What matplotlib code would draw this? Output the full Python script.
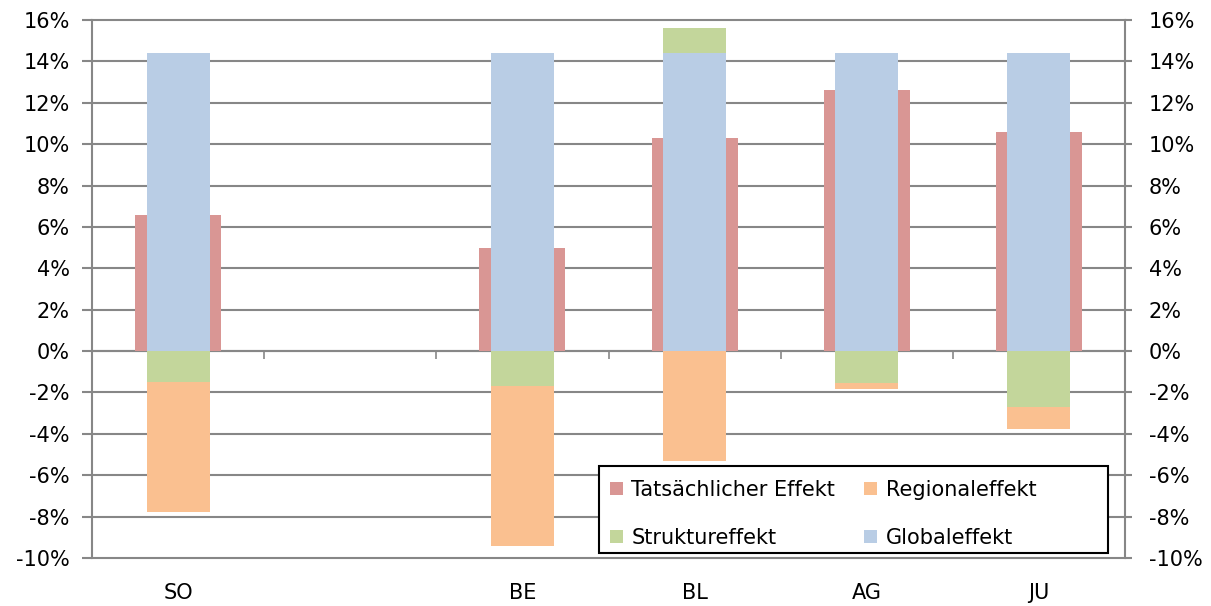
import matplotlib
matplotlib.use("Agg")
import matplotlib.pyplot as plt
import numpy as np
from matplotlib.ticker import FuncFormatter
from matplotlib.patches import Rectangle

categories = ["SO", "", "BE", "BL", "AG", "JU"]
tatsaechlich = [6.6, np.nan, 5.0, 10.3, 12.6, 10.6]
globaleffekt = [14.4, np.nan, 14.4, 14.4, 14.4, 14.4]
struktureffekt = [-1.5, np.nan, -1.7, 1.2, -1.55, -2.7]
regionaleffekt = [-6.3, np.nan, -7.7, -5.3, -0.3, -1.05]
yticks = list(range(-10, 17, 2))

c_red = "#D99694"
c_orange = "#FAC090"
c_green = "#C3D69B"
c_blue = "#B9CDE5"
c_grid = "#878787"
FS = 15

plt.rcParams['font.family'] = ['DejaVu Sans']
W, H = 1211, 606
fig = plt.figure(figsize=(W/100, H/100), dpi=100)
L, R, T, B = 92, 1125, 20, 558
ax = fig.add_axes([L/W, 1-B/H, (R-L)/W, (B-T)/H])

x = np.arange(len(categories))
tv = np.array(tatsaechlich, dtype=float)
gv = np.array(globaleffekt, dtype=float)
sv = np.array(struktureffekt, dtype=float)
rv = np.array(regionaleffekt, dtype=float)

h_t = ax.bar(x, tv, width=0.5, color=c_red, zorder=2)

pos_base = np.zeros(len(x))
neg_base = np.zeros(len(x))
handles = {}
for vals, col, lab in [(gv, c_blue, "Globaleffekt"), (sv, c_green, "Struktureffekt"), (rv, c_orange, "Regionaleffekt")]:
    v = np.nan_to_num(vals)
    bottoms = np.where(v >= 0, pos_base, neg_base)
    h = ax.bar(x, v, width=0.365, bottom=bottoms, color=col, zorder=3)
    handles[lab] = h
    pos_base = pos_base + np.where(v >= 0, v, 0)
    neg_base = neg_base + np.where(v < 0, v, 0)

ax.set_xlim(-0.5, len(x) - 0.5)
ax.set_ylim(-10, 16)
ax.set_yticks(yticks)
fmt = FuncFormatter(lambda v, p: f"{int(round(v))}%")
ax.yaxis.set_major_formatter(fmt)
ax.grid(axis='y', color=c_grid, linewidth=1.5, zorder=0)
ax.set_axisbelow(True)
for gl in ax.get_ygridlines():
    gl.set_clip_on(False)

for s in ['top', 'bottom', 'right']:
    ax.spines[s].set_visible(False)
ax.spines['left'].set_color(c_grid)
ax.spines['left'].set_linewidth(1.5)

ax.tick_params(axis='y', left=True, right=False, labelleft=True, labelright=False,
               direction='out', length=7, width=1.5, color=c_grid, labelsize=FS, pad=9)
ax.set_xticks(x)
ax.set_xticklabels(categories)
ax.tick_params(axis='x', length=0, labelsize=FS, pad=18)

ax2 = ax.twinx()
ax2.set_ylim(-10, 16)
ax2.set_yticks(yticks)
ax2.yaxis.set_major_formatter(fmt)
for s in ['top', 'bottom', 'left']:
    ax2.spines[s].set_visible(False)
ax2.spines['right'].set_color(c_grid)
ax2.spines['right'].set_linewidth(1.5)
ax2.tick_params(axis='y', direction='out', length=5, width=1.5, color=c_grid, labelsize=FS, pad=12)

sec = ax.secondary_xaxis(10/26)
sec.set_xticks(np.arange(0.5, len(x) - 1, 1.0))
sec.set_xticklabels([])
sec.tick_params(axis='x', direction='out', length=6, width=1.2, color=c_grid)
sec.spines['bottom'].set_color(c_grid)
sec.spines['bottom'].set_linewidth(1.5)

# legend frame
rect = Rectangle((599/W, 1-553/H), (1108-599)/W, (553-466)/H, transform=fig.transFigure,
                 facecolor="white", edgecolor="black", linewidth=1.5, zorder=5)
fig.patches.append(rect)

hl = [h_t, handles["Struktureffekt"], handles["Regionaleffekt"], handles["Globaleffekt"]]
labs = ["Tatsächlicher Effekt", "Struktureffekt", "Regionaleffekt", "Globaleffekt"]
leg = fig.legend(hl, labs, ncol=2, loc='upper left',
                 bbox_to_anchor=(610/W, 1-480/H), fontsize=FS, frameon=False,
                 handlelength=0.62, handleheight=0.62, handletextpad=0.4,
                 columnspacing=1.4, labelspacing=1.33, borderpad=0, borderaxespad=0)
leg.set_zorder(10)

fig.savefig("out.png", dpi=100)
